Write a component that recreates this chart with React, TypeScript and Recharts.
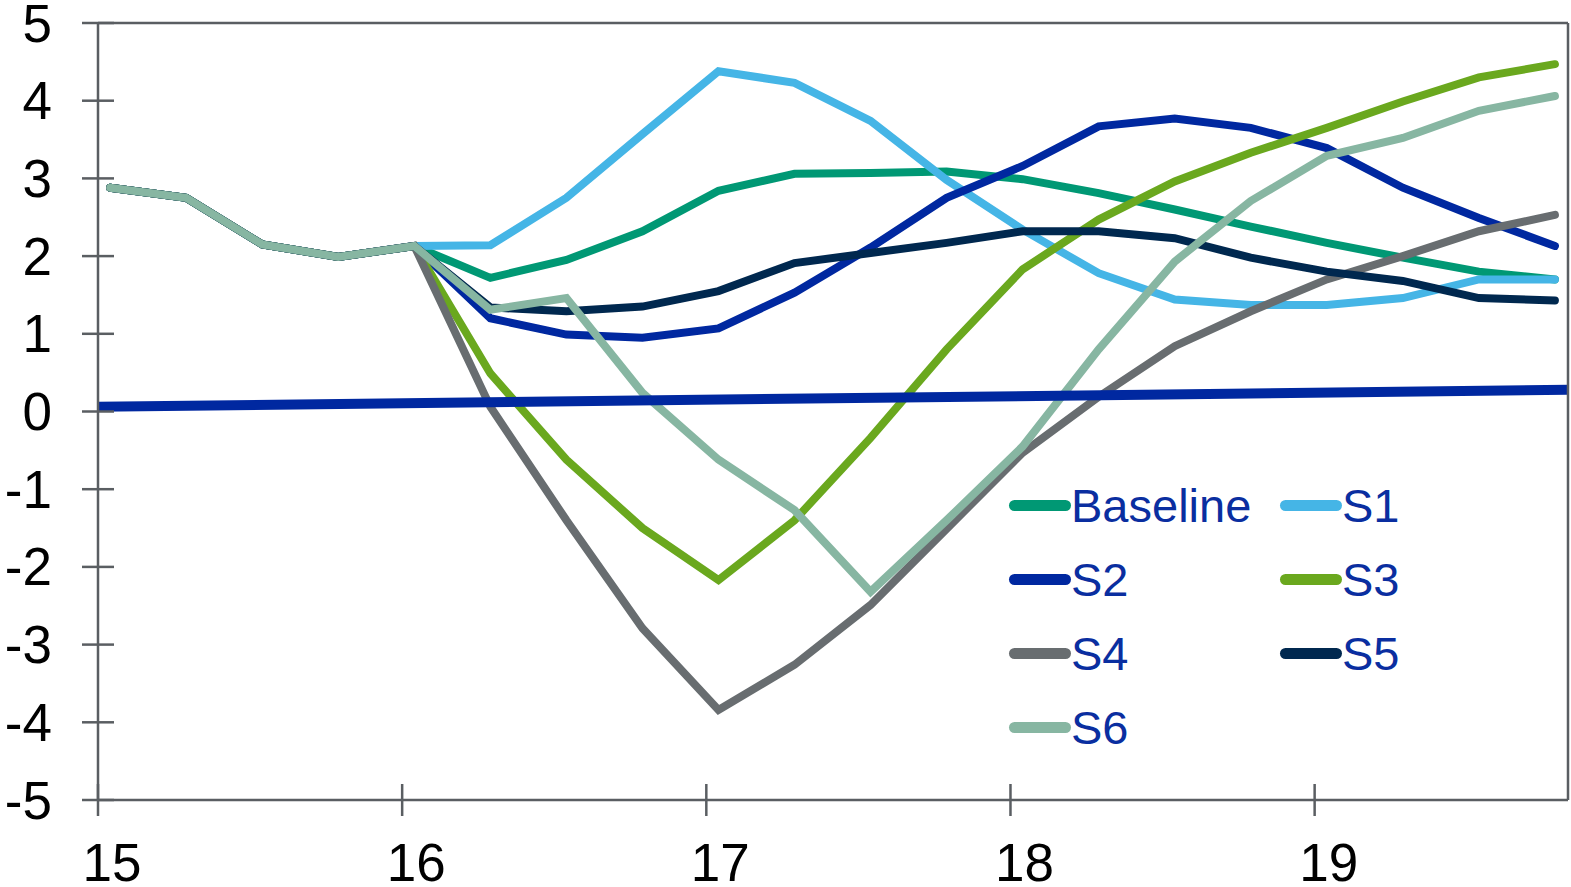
import { Legend, Line, LineChart, ReferenceLine, XAxis, YAxis } from 'recharts'

// quarterly observations, plotted mid-month of each quarter's first month
const periods = [
  15.04, 15.29, 15.54, 15.79, 16.04, 16.29, 16.54, 16.79, 17.04, 17.29,
  17.54, 17.79, 18.04, 18.29, 18.54, 18.79, 19.04, 19.29, 19.54, 19.79,
]

const baseline = [2.88, 2.75, 2.15, 1.99, 2.13, 1.72, 1.95, 2.32, 2.84, 3.06, 3.07, 3.09, 2.99, 2.81, 2.6, 2.38, 2.17, 1.98, 1.8, 1.7]
const s1 = [2.88, 2.75, 2.15, 1.99, 2.13, 2.14, 2.75, 3.57, 4.38, 4.23, 3.74, 2.98, 2.34, 1.78, 1.44, 1.37, 1.37, 1.46, 1.7, 1.7]
const s2 = [2.88, 2.75, 2.15, 1.99, 2.13, 1.2, 0.99, 0.95, 1.07, 1.53, 2.11, 2.75, 3.16, 3.67, 3.77, 3.65, 3.39, 2.88, 2.49, 2.13]
const s3 = [2.88, 2.75, 2.15, 1.99, 2.13, 0.49, -0.62, -1.5, -2.17, -1.4, -0.34, 0.8, 1.83, 2.47, 2.96, 3.33, 3.65, 3.99, 4.3, 4.47]
const s4 = [2.88, 2.75, 2.15, 1.99, 2.13, 0.06, -1.4, -2.79, -3.84, -3.26, -2.49, -1.51, -0.53, 0.19, 0.84, 1.29, 1.7, 2.0, 2.32, 2.53]
const s5 = [2.88, 2.75, 2.15, 1.99, 2.13, 1.34, 1.29, 1.35, 1.55, 1.91, 2.04, 2.17, 2.32, 2.32, 2.23, 1.98, 1.8, 1.68, 1.46, 1.43]
const s6 = [2.88, 2.75, 2.15, 1.99, 2.13, 1.31, 1.46, 0.24, -0.62, -1.27, -2.32, -1.4, -0.45, 0.8, 1.93, 2.71, 3.29, 3.52, 3.87, 4.06]

// long-run trend drawn across the whole window
const trendX = [15, 19.833]
const trendY = [0.06, 0.28]

const xTicks = [15, 16, 17, 18, 19]
const yTicks = [-5, -4, -3, -2, -1, 0, 1, 2, 3, 4, 5]

const X_MIN = 15
const X_MAX = 19.833

const series = [
  { key: 'baseline', name: 'Baseline', color: '#009874' },
  { key: 's1', name: 'S1', color: '#45b5e6' },
  { key: 's2', name: 'S2', color: '#0028a0' },
  { key: 's3', name: 'S3', color: '#6aa81e' },
  { key: 's4', name: 'S4', color: '#686d70' },
  { key: 's5', name: 'S5', color: '#00284f' },
  { key: 's6', name: 'S6', color: '#87b6a2' },
]

const data = periods.map((x, i) => ({
  x,
  baseline: baseline[i],
  s1: s1[i],
  s2: s2[i],
  s3: s3[i],
  s4: s4[i],
  s5: s5[i],
  s6: s6[i],
}))

const trendData = trendX.map((x, i) => ({ x, trend: trendY[i] }))

const FONT = '"Liberation Sans", Arial, sans-serif'
const AXIS = '#5a5e62'
const TEXT_BLUE = '#0a2ea0'

function YTick({ x, y, payload }: any) {
  return (
    <g>
      <line x1={x - 16} x2={x + 16} y1={y} y2={y} stroke={AXIS} strokeWidth={2.5} />
      <text x={x - 46} y={y} textAnchor="end" dominantBaseline="central" fontSize={53} fontFamily={FONT} fill="#000">
        {payload.value}
      </text>
    </g>
  )
}

function XTick({ x, y, payload }: any) {
  return (
    <g>
      <line x1={x} x2={x} y1={y - 16} y2={y + 16} stroke={AXIS} strokeWidth={2.5} />
      <text x={x + 14} y={y + 81} textAnchor="middle" fontSize={53} fontFamily={FONT} fill="#000">
        {payload.value}
      </text>
    </g>
  )
}

function LegendBox({ payload }: any) {
  const items = (payload ?? []).filter((p: any) => p.type !== 'none')
  return (
    <div style={{ display: 'grid', gridTemplateColumns: '271px 271px' }}>
      {items.map((item: any) => (
        <div key={item.value} style={{ display: 'flex', alignItems: 'center', height: 74 }}>
          <span style={{ width: 62, height: 11, borderRadius: 6, background: item.color, display: 'inline-block' }} />
          <span style={{ fontFamily: FONT, fontSize: 47, color: TEXT_BLUE, lineHeight: 1 }}>{item.value}</span>
        </div>
      ))}
    </div>
  )
}

export default function App() {
  return (
    <div style={{ position: 'fixed', left: 0, top: 0, background: '#fff' }}>
      <LineChart width={1571} height={887} data={data} margin={{ top: 23, right: 0, bottom: 0, left: 0 }}>
        <XAxis
          dataKey="x"
          type="number"
          domain={[X_MIN, X_MAX]}
          ticks={xTicks}
          allowDataOverflow
          height={87}
          tickSize={0}
          tickMargin={0}
          tickLine={false}
          tick={<XTick />}
          axisLine={{ stroke: AXIS, strokeWidth: 2.5 }}
        />
        <YAxis
          domain={[-5, 5]}
          ticks={yTicks}
          width={98}
          tickSize={0}
          tickMargin={0}
          tickLine={false}
          tick={<YTick />}
          axisLine={{ stroke: AXIS, strokeWidth: 2.5 }}
          allowDataOverflow
        />
        {/* right edge of the frame */}
        <YAxis
          yAxisId="frame"
          orientation="right"
          domain={[-5, 5]}
          width={3}
          tick={false}
          tickLine={false}
          axisLine={{ stroke: AXIS, strokeWidth: 2.5 }}
        />
        <ReferenceLine y={5} stroke={AXIS} strokeWidth={2.5} ifOverflow="visible" />
        {series.map((s) => (
          <Line
            key={s.key}
            dataKey={s.key}
            name={s.name}
            stroke={s.color}
            strokeWidth={8}
            strokeLinecap="round"
            dot={false}
            activeDot={false}
            isAnimationActive={false}
          />
        ))}
        <Line
          data={trendData}
          dataKey="trend"
          stroke="#0028a0"
          strokeWidth={10}
          dot={false}
          activeDot={false}
          legendType="none"
          isAnimationActive={false}
        />
        <Legend
          layout="vertical"
          align="center"
          verticalAlign="middle"
          content={<LegendBox />}
          wrapperStyle={{ left: 1009, top: 468, width: 560, height: 296 }}
        />
      </LineChart>
    </div>
  )
}
